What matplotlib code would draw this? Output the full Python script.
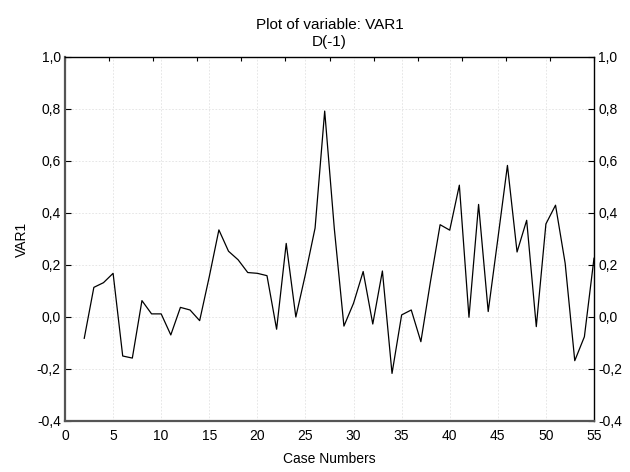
import matplotlib
matplotlib.use("Agg")
import matplotlib.pyplot as plt
import numpy as np

plt.rcParams['font.family'] = ['Liberation Sans', 'DejaVu Sans']

case_numbers = list(range(2, 56))
var1 = [-0.082, 0.114, 0.132, 0.168, -0.150, -0.158, 0.063, 0.012, 0.012, -0.069,
        0.037, 0.027, -0.014, 0.155, 0.335, 0.253, 0.220, 0.171, 0.168, 0.159,
        -0.047, 0.283, 0.000, 0.165, 0.342, 0.792, 0.340, -0.035, 0.053, 0.175,
        -0.027, 0.177, -0.217, 0.008, 0.027, -0.095, 0.137, 0.355, 0.334, 0.507,
        -0.001, 0.433, 0.021, 0.300, 0.583, 0.250, 0.372, -0.037, 0.358, 0.430,
        0.207, -0.168, -0.076, 0.226]

xticks = [0, 5, 10, 15, 20, 25, 30, 35, 40, 45, 50, 55]
yticks = [-0.4, -0.2, 0.0, 0.2, 0.4, 0.6, 0.8, 1.0]
ytick_labels = ['-0,4', '-0,2', '0,0', '0,2', '0,4', '0,6', '0,8', '1,0']

fig = plt.figure(figsize=(6.3, 4.72), dpi=100)
ax = fig.add_axes([65/630, 1-421/472, (594-65)/630, (421-57)/472])

ax.plot(case_numbers, var1, color='black', lw=0.9)

ax.set_xlim(0, 55)
ax.set_ylim(-0.4, 1.0)
ax.set_xticks(xticks)
ax.set_yticks(yticks)
ax.set_yticklabels(ytick_labels)
ax.tick_params(axis='both', direction='in', length=4, labelsize=10,
               left=True, right=True, labelleft=True, labelright=True, pad=3)
ax.tick_params(axis='x', length=0, pad=6)
ax.grid(True, color='#e2e2e2', linestyle=(0, (2, 2)), lw=0.6)

for s in ['left', 'bottom']:
    ax.spines[s].set_color('#555555')
    ax.spines[s].set_linewidth(1.6)
for s in ['top', 'right']:
    ax.spines[s].set_color('black')
    ax.spines[s].set_linewidth(1.0)

top = ax.secondary_xaxis('top')
top.set_xticks(np.linspace(0, 55, 13))
top.tick_params(direction='in', length=3, labeltop=False)
top.spines['top'].set_visible(False)

ax.set_xlabel('Case Numbers', fontsize=10, labelpad=6)
ax.set_ylabel('VAR1', fontsize=10, labelpad=6)
ax.set_title('Plot of variable: VAR1\nD(-1)', fontsize=11, pad=8, linespacing=1.25)

fig.savefig('out.png', dpi=100)
